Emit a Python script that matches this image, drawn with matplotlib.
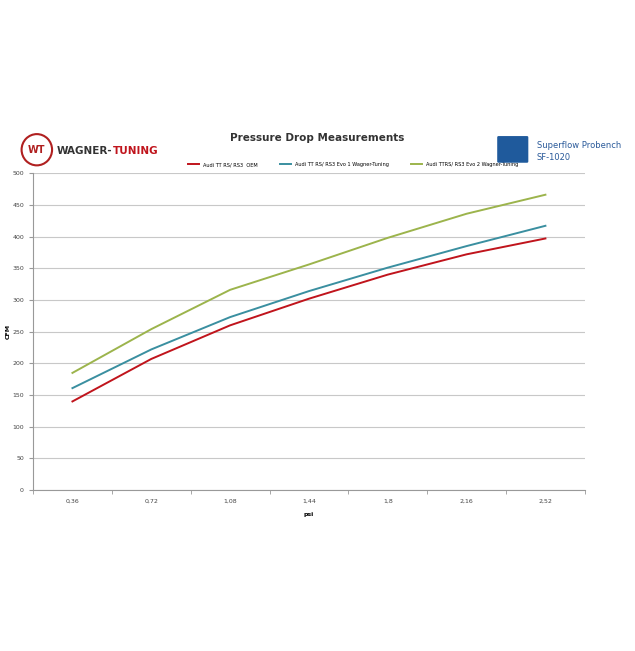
import matplotlib
matplotlib.use("Agg")
import matplotlib.pyplot as plt
from matplotlib.patches import Circle, FancyBboxPatch

categories = ["0,36", "0,72", "1,08", "1,44", "1,8", "2,16", "2,52"]
oem = [140, 207, 260, 302, 340, 372, 397]
evo1 = [161, 222, 273, 314, 351, 385, 417]
evo2 = [185, 254, 316, 356, 398, 436, 466]
labels = ["Audi TT RS/ RS3  OEM", "Audi TT RS/ RS3 Evo 1 Wagner-Tuning", "Audi TTRS/ RS3 Evo 2 Wagner-Tuning"]
colors = ["#c0141c", "#3a8fa0", "#9cb44c"]

fig = plt.figure(figsize=(6.35, 6.51), dpi=100)
ax = fig.add_axes([0.052, 0.247, 0.869, 0.487])
x = list(range(len(categories)))
for s, l, c in zip([oem, evo1, evo2], labels, colors):
    ax.plot(x, s, color=c, lw=1.4, label=l)
ax.set_xlim(-0.5, 6.5)
ax.set_ylim(0, 500)
ax.set_yticks(range(0, 501, 50))
ax.set_xticks(x)
ax.set_xticklabels(categories)
ax.set_xticks([i + 0.5 for i in range(-1, 7)], minor=True)
ax.tick_params(axis="x", which="major", length=0, labelsize=4.5, colors="#444", pad=6)
ax.tick_params(axis="x", which="minor", length=3, color="#999")
ax.tick_params(axis="y", labelsize=4.5, colors="#444", length=3, color="#999")
ax.grid(axis="y", color="#c8c8c8", lw=0.8)
for sp in ["top", "right"]:
    ax.spines[sp].set_visible(False)
for sp in ["left", "bottom"]:
    ax.spines[sp].set_color("#999")
ax.set_ylabel("CFM", fontsize=4.5, fontweight="bold")
ax.yaxis.set_label_coords(-0.04, 0.5)
ax.set_xlabel("psi", fontsize=4.5, fontweight="bold", labelpad=6)
ax.set_axisbelow(True)

fig.text(0.5, 0.783, "Pressure Drop Measurements", ha="center", fontsize=7.5, fontweight="bold", color="#333")
ax.legend(loc="lower center", bbox_to_anchor=(0.58, 1.005), ncol=3, fontsize=3.6, frameon=False,
          handlelength=2.2, columnspacing=4.5)

# Wagner logo
fig.patches.append(Circle((0.058, 0.770), 0.024, transform=fig.transFigure, fill=False, ec="#b02020", lw=1.5))
fig.text(0.058, 0.770, "WT", ha="center", va="center", fontsize=7, fontweight="bold", color="#b02020")
t1 = fig.text(0.09, 0.768, "WAGNER-", ha="left", va="center", fontsize=7.5, fontweight="bold", color="#333")
fig.canvas.draw()
bb = t1.get_window_extent().transformed(fig.transFigure.inverted())
fig.text(bb.x1, 0.768, "TUNING", ha="left", va="center", fontsize=7.5, fontweight="bold", color="#c0141c")
# Superflow logo
fig.patches.append(FancyBboxPatch((0.785, 0.752), 0.045, 0.037, transform=fig.transFigure,
                                  boxstyle="round,pad=0.002", fc="#1f5a9c", ec="none"))
fig.text(0.845, 0.777, "Superflow Probench", ha="left", va="center", fontsize=6, color="#2a5a9a")
fig.text(0.845, 0.758, "SF-1020", ha="left", va="center", fontsize=6, color="#2a5a9a")

fig.savefig("out.png", dpi=100, facecolor="white")
